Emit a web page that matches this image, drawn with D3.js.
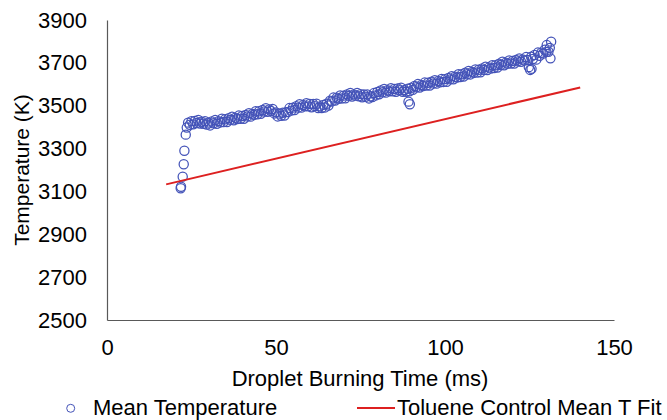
<!DOCTYPE html>
<html>
<head>
<meta charset="utf-8">
<script src="https://cdn.jsdelivr.net/npm/d3@7"></script>
<style>
  body { margin: 0; background: #fff; }
  svg text { font-family: "Liberation Sans", Arial, sans-serif; fill: #000; }
</style>
</head>
<body>
<svg id="chart" width="667" height="420"></svg>
<script>
// droplet burning time (ms) and mean temperature (K)
const timeMs = [
  21.8, 21.9, 22.4, 22.7, 22.9, 23.3, 23.6,
  24.0, 24.5, 25.0, 25.5, 26.0, 26.5, 27.0, 27.5, 28.0, 28.5, 29.0, 29.5,
  30.0, 30.5, 31.0, 31.5, 32.0, 32.5, 33.0, 33.5, 34.0, 34.5, 35.0, 35.5,
  36.0, 36.5, 37.0, 37.5, 38.0, 38.5, 39.0, 39.5, 40.0, 40.5, 41.0, 41.5,
  42.0, 42.5, 43.0, 43.5, 44.0, 44.5, 45.0, 45.5, 46.0, 46.5, 47.0, 47.5,
  48.0, 48.5, 49.0, 49.5, 50.0, 50.5, 51.0, 51.5, 52.0, 52.5, 53.0, 53.5,
  54.0, 54.5, 55.0, 55.5, 56.0, 56.5, 57.0, 57.5, 58.0, 58.5, 59.0, 59.5,
  60.0, 60.5, 61.0, 61.5, 62.0, 62.5, 63.0, 63.5, 64.0, 64.5, 65.0, 65.5,
  66.0, 66.5, 67.0, 67.5, 68.0, 68.5, 69.0, 69.5, 70.0, 70.5, 71.0, 71.5,
  72.0, 72.5, 73.0, 73.5, 74.0, 74.5, 75.0, 75.5, 76.0, 76.5, 77.0, 77.5,
  78.0, 78.5, 79.0, 79.5, 80.0, 80.5, 81.0, 81.5, 82.0, 82.5, 83.0, 83.5,
  84.0, 84.5, 85.0, 85.5, 86.0, 86.5, 87.0, 87.5, 88.0, 88.5, 89.0, 89.2,
  89.5, 89.6, 90.0, 90.5, 91.0, 91.5, 92.0, 92.5, 93.0, 93.5, 94.0, 94.5,
  95.0, 95.5, 96.0, 96.5, 97.0, 97.5, 98.0, 98.5, 99.0, 99.5, 100.0, 100.5,
  101.0, 101.5, 102.0, 102.5, 103.0, 103.5, 104.0, 104.5, 105.0, 105.5,
  106.0, 106.5, 107.0, 107.5, 108.0, 108.5, 109.0, 109.5, 110.0, 110.5,
  111.0, 111.5, 112.0, 112.5, 113.0, 113.5, 114.0, 114.5, 115.0, 115.5,
  116.0, 116.5, 117.0, 117.5, 118.0, 118.5, 119.0, 119.5, 120.0, 120.5,
  121.0, 121.5, 122.0, 122.5, 123.0, 123.5, 124.0, 124.5, 124.8, 125.2,
  125.5, 125.6, 126.0, 126.5, 127.0, 127.5, 128.0, 128.5, 129.0, 129.5,
  130.0, 130.1, 130.6, 131.0, 131.2, 131.4
];
const meanTempK = [
  3115, 3122, 3169, 3227, 3290, 3365, 3398,
  3421, 3411, 3428, 3413, 3429, 3419, 3434, 3417, 3425, 3416, 3428, 3412,
  3421, 3408, 3426, 3418, 3433, 3416, 3428, 3422, 3439, 3424, 3437, 3424,
  3442, 3434, 3449, 3432, 3444, 3438, 3454, 3439, 3452, 3439, 3457, 3450,
  3465, 3449, 3462, 3457, 3474, 3460, 3474, 3462, 3480, 3473, 3488, 3472,
  3483, 3475, 3485, 3464, 3469, 3450, 3463, 3453, 3467, 3454, 3470, 3470,
  3489, 3477, 3491, 3480, 3498, 3491, 3507, 3491, 3503, 3497, 3512, 3497,
  3508, 3493, 3508, 3498, 3509, 3489, 3497, 3489, 3504, 3492, 3509, 3501,
  3523, 3520, 3538, 3524, 3537, 3532, 3548, 3534, 3547, 3535, 3553, 3546,
  3560, 3543, 3553, 3547, 3560, 3544, 3554, 3539, 3553, 3542, 3553, 3534,
  3544, 3540, 3559, 3548, 3564, 3553, 3571, 3563, 3578, 3561, 3572, 3567,
  3582, 3567, 3578, 3565, 3581, 3572, 3584, 3565, 3573, 3565, 3579, 3519,
  3567, 3507, 3584, 3574, 3592, 3586, 3601, 3585, 3597, 3592, 3608, 3594,
  3607, 3594, 3612, 3604, 3619, 3603, 3615, 3609, 3625, 3611, 3624, 3612,
  3630, 3623, 3638, 3623, 3635, 3631, 3647, 3634, 3647, 3636,
  3654, 3647, 3662, 3646, 3658, 3653, 3669, 3655, 3668, 3656,
  3674, 3667, 3682, 3666, 3678, 3673, 3689, 3676, 3689, 3678,
  3696, 3690, 3705, 3689, 3701, 3696, 3711, 3697, 3709, 3697,
  3714, 3707, 3721, 3705, 3716, 3711, 3727, 3713, 3680, 3667,
  3729, 3672, 3718, 3737, 3715, 3748, 3733, 3747, 3743, 3761,
  3751, 3783, 3752, 3770, 3721, 3799
];

// trendline end points (Toluene control)
const fitTimeMs = [17.5, 140];
const fitTempK = [3133, 3585];

const xTicks = [0, 50, 100, 150];
const yTicks = [2500, 2700, 2900, 3100, 3300, 3500, 3700, 3900];

const blue = "#4453b8";
const red = "#dd2020";
const axisGray = "#595959";

const svg = d3.select("#chart");
svg.append("rect").attr("width", 667).attr("height", 420).attr("fill", "#fff");

const x = d3.scaleLinear().domain([0, 150]).range([107, 614]);
const y = d3.scaleLinear().domain([2500, 3900]).range([320, 20]);

// axes (no tick marks, like excel)
const yAxis = svg.append("g")
  .attr("transform", `translate(${x(0)},0)`)
  .call(d3.axisLeft(y).tickValues(yTicks).tickSize(0).tickPadding(20).tickFormat(d3.format("d")));
const xAxis = svg.append("g")
  .attr("transform", `translate(0,${y(2500)})`)
  .call(d3.axisBottom(x).tickValues(xTicks).tickSize(0).tickPadding(19).tickFormat(d3.format("d")));

[xAxis, yAxis].forEach(g => {
  g.select(".domain").attr("stroke", axisGray).attr("stroke-width", 1.2);
  g.selectAll("text")
    .style("font-size", "22px")
    .style("font-family", "'Liberation Sans', Arial, sans-serif")
    .attr("fill", "#000");
});

// scatter points
const pts = timeMs.map((t, i) => ({ t: t, v: meanTempK[i] }));
svg.append("g")
  .selectAll("circle")
  .data(pts)
  .join("circle")
    .attr("cx", d => x(d.t))
    .attr("cy", d => y(d.v))
    .attr("r", 4.6)
    .attr("fill", "none")
    .attr("stroke", blue)
    .attr("stroke-width", 1.25);

// fit line
const line = d3.line().x(d => x(d[0])).y(d => y(d[1]));
svg.append("path")
  .datum(fitTimeMs.map((t, i) => [t, fitTempK[i]]))
  .attr("d", line)
  .attr("fill", "none")
  .attr("stroke", red)
  .attr("stroke-width", 2);

// axis titles
svg.append("text")
  .attr("x", 360).attr("y", 386)
  .attr("text-anchor", "middle")
  .style("font-size", "22px")
  .text("Droplet Burning Time (ms)");

svg.append("text")
  .attr("transform", "translate(29,170) rotate(-90)")
  .attr("text-anchor", "middle")
  .style("font-size", "21px")
  .text("Temperature (K)");

// legend
const legend = svg.append("g");
legend.append("circle")
  .attr("cx", 70.7).attr("cy", 408.3).attr("r", 4)
  .attr("fill", "none").attr("stroke", blue).attr("stroke-width", 1);
legend.append("text")
  .attr("x", 93).attr("y", 415)
  .style("font-size", "22px")
  .text("Mean Temperature");
legend.append("line")
  .attr("x1", 357).attr("x2", 395).attr("y1", 408).attr("y2", 408)
  .attr("stroke", red).attr("stroke-width", 2);
legend.append("text")
  .attr("x", 397).attr("y", 415)
  .style("font-size", "22px")
  .text("Toluene Control Mean T Fit");
</script>
</body>
</html>
